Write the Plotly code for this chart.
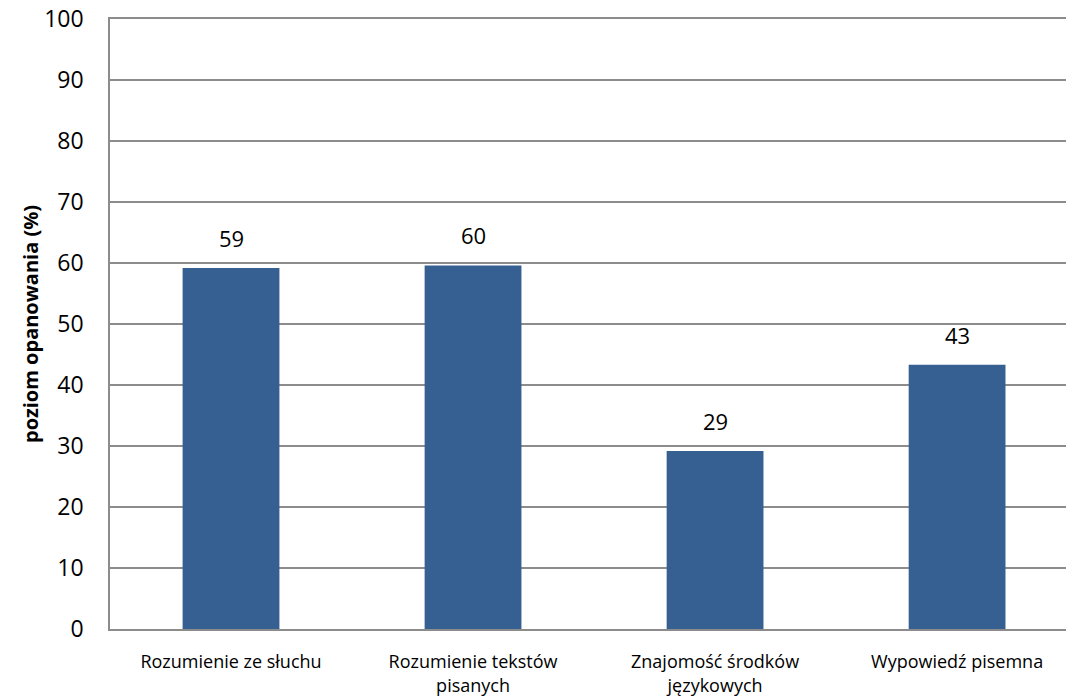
import plotly.graph_objects as go

categories = [
    "Rozumienie ze słuchu",
    "Rozumienie tekstów<br>pisanych",
    "Znajomość środków<br>językowych",
    "Wypowiedź pisemna",
]
values = [59.2, 59.6, 29.2, 43.3]
labels = ["59", "60", "29", "43"]
y_ticks = [0, 10, 20, 30, 40, 50, 60, 70, 80, 90, 100]

FONT = "Open Sans"
GRID = "#8c8c8c"

fig = go.Figure()
fig.add_trace(go.Bar(
    x=categories, y=values,
    marker=dict(color="#376092", line=dict(width=0)),
    width=0.4, hoverinfo="skip",
))

# value labels above bars
for cat, val, lab in zip(categories, values, labels):
    fig.add_annotation(
        x=cat, y=val, text=lab, showarrow=False,
        yanchor="bottom", yshift=13,
        font=dict(family=FONT, size=22, color="#000000"),
    )

fig.update_layout(
    width=1066, height=697,
    margin=dict(l=110, r=0, t=19, b=68),
    paper_bgcolor="white", plot_bgcolor="white",
    showlegend=False,
    font=dict(family=FONT, color="#000000"),
)
fig.update_xaxes(
    range=[-0.5, 3.45], showgrid=False,
    showline=True, linecolor=GRID, linewidth=1.5, mirror=True,
    ticks="", tickfont=dict(size=18), ticklabelstandoff=16,
)
fig.update_yaxes(
    range=[0, 100], tickvals=y_ticks, showgrid=True,
    gridcolor=GRID, gridwidth=1.5, zeroline=False,
    showline=True, linecolor=GRID, linewidth=1.5,
    ticks="", tickfont=dict(size=23), ticklabelstandoff=20,
    ticklabeloverflow="allow",
    title=dict(text="<b>poziom opanowania (%)</b>", font=dict(size=20), standoff=0),
)

# drop the default page margin so the figure sits at 0,0
fig.write_html(
    "out.html",
    config={"displayModeBar": False},
    post_script="document.body.style.margin='0';document.body.style.overflow='hidden';",
)
